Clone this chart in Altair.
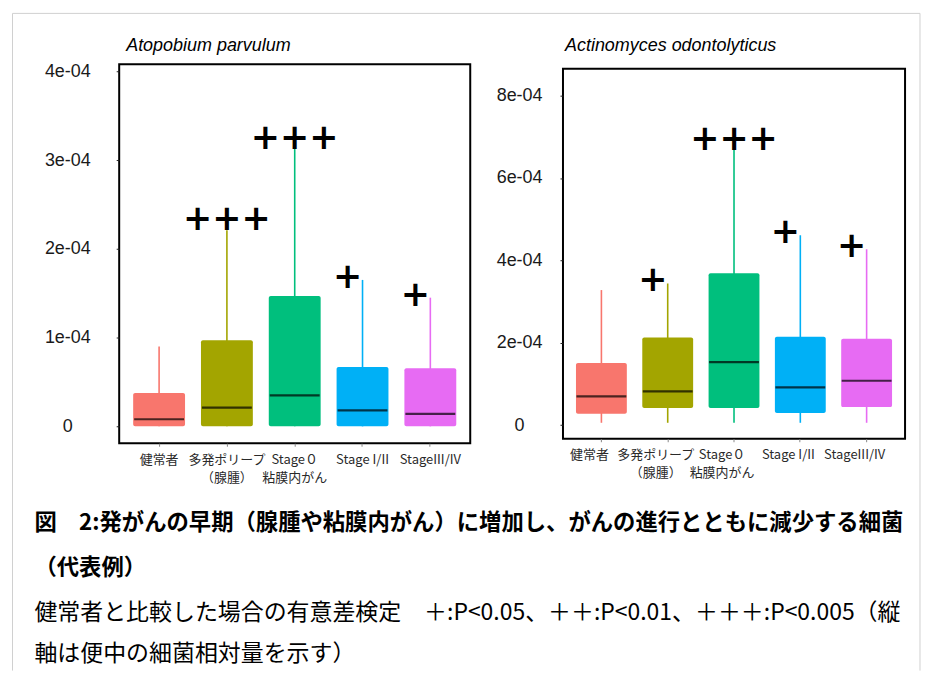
import altair as alt
import pandas as pd

groups = ["健常者", "多発ポリープ\n（腺腫）", "Stage０\n粘膜内がん", "Stage I/II", "StageIII/IV"]
colors = ["#F8766D", "#A3A500", "#00BF7D", "#00B0F6", "#E76BF3"]

# Atopobium parvulum (relative abundance)
ap_low = [0.0, 0.0, 0.0, 0.0, 0.0]
ap_q1 = [0.0, 0.0, 0.0, 0.0, 0.0]
ap_med = [0.08e-4, 0.21e-4, 0.35e-4, 0.18e-4, 0.14e-4]
ap_q3 = [0.375e-4, 0.97e-4, 1.47e-4, 0.67e-4, 0.655e-4]
ap_high = [0.90e-4, 2.21e-4, 3.13e-4, 1.65e-4, 1.45e-4]
ap_sig = ["", "+++", "+++", "+", "+"]
ap_ticks = [0, 1e-4, 2e-4, 3e-4, 4e-4]

# Actinomyces odontolyticus (relative abundance)
ao_low = [0.06e-4, 0.06e-4, 0.06e-4, 0.06e-4, 0.06e-4]
ao_q1 = [0.28e-4, 0.42e-4, 0.42e-4, 0.30e-4, 0.44e-4]
ao_med = [0.70e-4, 0.82e-4, 1.53e-4, 0.92e-4, 1.08e-4]
ao_q3 = [1.51e-4, 2.13e-4, 3.69e-4, 2.15e-4, 2.10e-4]
ao_high = [3.28e-4, 3.44e-4, 6.68e-4, 4.61e-4, 4.27e-4]
ao_sig = ["", "+", "+++", "+", "+"]
ao_ticks = [0, 2e-4, 4e-4, 6e-4, 8e-4]

panel_titles = ["Atopobium parvulum", "Actinomyces odontolyticus"]

caption_lines = [
    "図　2:発がんの早期（腺腫や粘膜内がん）に増加し、がんの進行とともに減少する細菌",
    "（代表例）",
    "健常者と比較した場合の有意差検定　＋:P<0.05、＋＋:P<0.01、＋＋＋:P<0.005（縦",
    "軸は便中の細菌相対量を示す）",
]
caption_bold = [True, True, False, False]
caption_y = [460, 505, 550.5, 591]

JP = "Noto Sans CJK JP"


def panel(title, low, q1, med, q3, high, sig, ydomain, yticks, width, height,
          pad_in, pad_out, label_pad, label_off, title_x, title_y, extra=()):
    df = pd.DataFrame({"group": groups, "low": low, "q1": q1, "med": med,
                       "q3": q3, "high": high, "sig": sig})
    x = alt.X("group:N", sort=groups,
              scale=alt.Scale(domain=groups, paddingInner=pad_in, paddingOuter=pad_out),
              axis=alt.Axis(title=None, labelAngle=0, domain=False,
                            labelExpr="split(datum.label, '\\n')",
                            labelFont=JP, labelFontSize=13, labelColor="#2a2a2a",
                            labelLineHeight=18, labelPadding=7, labelOverlap=False,
                            labelOffset=label_off,
                            tickSize=3, tickColor="#888888"))
    y = alt.Y("low:Q", title=None,
              scale=alt.Scale(domain=ydomain, nice=False, zero=False),
              axis=alt.Axis(values=yticks, grid=False, domain=False,
                            labelExpr="datum.value == 0 ? '0' : replace(format(datum.value, '.0e'), 'e-', 'e-0')",
                            labelAlign="center", labelBaseline="middle",
                            labelFont="Liberation Sans", labelFontSize=18,
                            labelColor="#1a1a1a", labelPadding=label_pad,
                            tickSize=3, tickColor="#222222"))
    color = alt.Color("group:N", scale=alt.Scale(domain=groups, range=colors), legend=None)
    base = alt.Chart(df)
    whisk = base.mark_rule(strokeWidth=1.6).encode(x=x, y=y, y2="high:Q", color=color)
    box = base.mark_bar(cornerRadius=2).encode(
        x=x, y=alt.Y("q1:Q", title=None), y2="q3:Q", color=color)
    medl = base.mark_tick(color="black", thickness=2.2, size=50).encode(
        x=x, y=alt.Y("med:Q", title=None))
    trip = base.transform_filter("datum.sig == '+++'").mark_text(
        font="DejaVu Sans", fontWeight="bold", fontSize=35, baseline="middle",
        dy=-11, color="black").encode(x=x, y=alt.Y("high:Q", title=None), text="sig:N")
    sing = base.transform_filter("datum.sig == '+'").mark_text(
        font="DejaVu Sans", fontWeight="bold", fontSize=35, baseline="middle",
        dx=-15, dy=-3, color="black").encode(x=x, y=alt.Y("high:Q", title=None), text="sig:N")
    ttl = alt.Chart(pd.DataFrame({"t": [title]})).mark_text(
        align="left", baseline="alphabetic", font="Liberation Sans", fontStyle="italic",
        fontSize=18, color="black").encode(x=alt.value(title_x), y=alt.value(title_y), text="t:N")
    layers = [whisk, box, medl, trip, sing, ttl] + list(extra)
    return alt.layer(*layers).properties(width=width, height=height)


# caption text and light frame, drawn as annotations of the left panel
extra = []
for line, bold, yy in zip(caption_lines, caption_bold, caption_y):
    extra.append(
        alt.Chart(pd.DataFrame({"t": [line]})).mark_text(
            align="left", baseline="middle", font=JP,
            fontSize=22.4 if bold else 23,
            fontWeight="bold" if bold else "normal", color="black"
        ).encode(x=alt.value(-85), y=alt.value(yy), text="t:N")
    )
one = pd.DataFrame({"a": [0]})
frame_color = "#d0d0d0"
extra.append(alt.Chart(one).mark_rule(color=frame_color, strokeWidth=1).encode(
    x=alt.value(-107), y=alt.value(-51), y2=alt.value(608)))
extra.append(alt.Chart(one).mark_rule(color=frame_color, strokeWidth=1).encode(
    x=alt.value(803), y=alt.value(-51), y2=alt.value(608)))
extra.append(alt.Chart(one).mark_rule(color=frame_color, strokeWidth=1).encode(
    x=alt.value(-107), x2=alt.value(803), y=alt.value(-51)))

left = panel(panel_titles[0], ap_low, ap_q1, ap_med, ap_q3, ap_high, ap_sig,
             [-0.19e-4, 4.08e-4], ap_ticks, 352, 380, 0.235, 0.206, 49, 0, 7, -13, extra)
right = panel(panel_titles[1], ao_low, ao_q1, ao_med, ao_q3, ao_high, ao_sig,
              [-0.327e-4, 8.65e-4], ao_ticks, 343, 371, 0.233, 0.196, 41, -12, 2, -17.5)

chart = alt.hconcat(left, right, spacing=93, bounds="flush", center=True).properties(
    padding={"left": 2.5, "top": 2.5, "right": 0, "bottom": 0}
).configure(background="white").configure_view(stroke="black", strokeWidth=2)

chart.save("out.html", embed_options={"renderer": "svg", "actions": False})
